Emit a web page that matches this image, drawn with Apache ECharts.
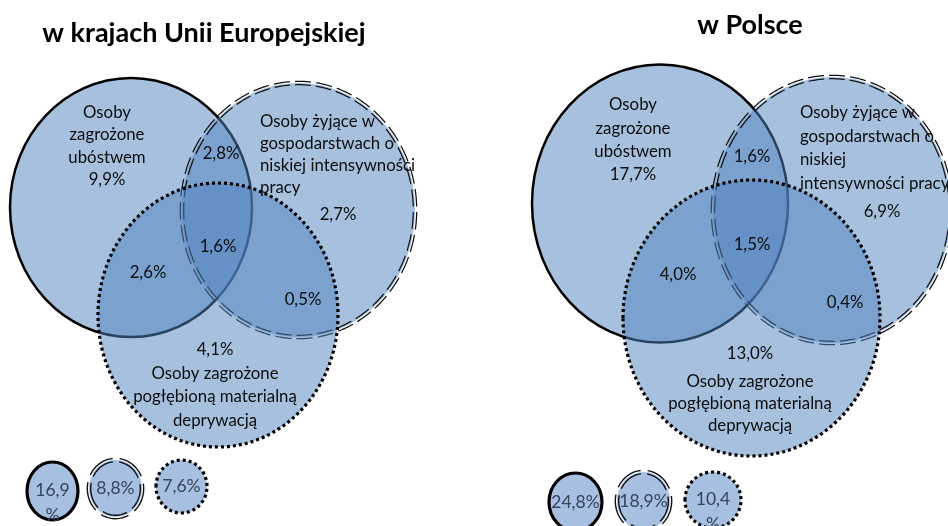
<!DOCTYPE html>
<html>
<head>
<meta charset="utf-8">
<script src="https://cdn.jsdelivr.net/npm/echarts@6/dist/echarts.min.js"></script>
<style>
  html, body { margin: 0; padding: 0; background: #ffffff; }
  #chart { width: 948px; height: 526px; }
</style>
</head>
<body>
<div id="chart"></div>
<script>
// ---- Data -------------------------------------------------------------
const panelTitles = ['w krajach Unii Europejskiej', 'w Polsce'];

// Set names, with the line breaks used in each panel
const setNamesEU = [
  'Osoby\nzagrożone\nubóstwem',
  'Osoby żyjące w\ngospodarstwach o\nniskiej intensywności\npracy',
  'Osoby zagrożone\npogłębioną materialną\ndeprywacją'
];
const setNamesPL = [
  'Osoby\nzagrożone\nubóstwem',
  'Osoby żyjące w\ngospodarstwach o\nniskiej\nintensywności pracy',
  'Osoby zagrożone\npogłębioną materialną\ndeprywacją'
];

// Region shares (%), order: A only, B only, C only, A∩B, A∩C, B∩C, A∩B∩C
const regionKeys = ['A', 'B', 'C', 'AB', 'AC', 'BC', 'ABC'];
const regionValuesEU = [9.9, 2.7, 4.1, 2.8, 2.6, 0.5, 1.6];
const regionValuesPL = [17.7, 6.9, 13.0, 1.6, 4.0, 0.4, 1.5];

// Totals shown in the small key circles (solid, double dashed, dotted)
const keyValuesEU = [16.9, 8.8, 7.6];
const keyValuesPL = [24.8, 18.9, 10.4];

// ---- Layout (pixel space of the hidden axes) ---------------------------
const layoutEU = {
  title: [204, 33],
  circles: [[131, 207.5, 121, 129.5], [298.5, 210, 116.5, 127], [218, 315, 120, 132]],
  names: [[107, 135, 'center', 22.5], [260, 155, 'left', 22], [215, 397, 'center', 23.5]],
  regions: [[107, 180], [338, 215], [215, 350], [221, 154], [148, 273], [303, 300], [218, 247]],
  keys: [[52.5, 491, 25.5, 29, true], [115.5, 488.5, 26.5, 28.5, false], [181.5, 486.5, 25.5, 26.5, false]]
};
const layoutPL = {
  title: [750, 25],
  circles: [[660, 203.5, 128, 139], [832, 210, 119, 133], [751.5, 318, 128.5, 138]],
  names: [[633, 128.5, 'center', 23.5], [800, 148, 'left', 23.5], [750, 404, 'center', 22]],
  regions: [[633, 175], [882, 212], [750, 354], [752, 157], [678, 275], [845, 303], [752, 245]],
  keys: [[575.5, 502, 26.5, 29, false], [643.5, 501, 26.5, 29, false], [713, 500, 28, 28, true]]
};

const FILL = 'rgba(79,129,189,0.5)';
const KEY_FILL = '#a7bfe0';
const FONT = 'Lato, "Open Sans", sans-serif';
const fmt = v => v.toFixed(1).replace('.', ',') + '%';

// ---- Outline painters ---------------------------------------------------
function ellipsePoints(cx, cy, rx, ry, t0, t1, steps) {
  const pts = [];
  for (let i = 0; i <= steps; i++) {
    const t = t0 + (t1 - t0) * i / steps;
    pts.push([cx + rx * Math.cos(t), cy + ry * Math.sin(t)]);
  }
  return pts;
}

function doubleDash(cx, cy, rx, ry, count, frac, gap, width) {
  const children = [];
  const step = Math.PI * 2 / count;
  for (let i = 0; i < count; i++) {
    const t0 = i * step - Math.PI / 2 + 0.15;
    const t1 = t0 + step * frac;
    [-gap / 2, gap / 2].forEach(function (d) {
      children.push({
        type: 'polyline',
        shape: { points: ellipsePoints(cx, cy, rx + d, ry + d, t0, t1, 12) },
        style: { stroke: '#111', lineWidth: width, fill: null }
      });
    });
  }
  return children;
}

function circleShape(kind, cx, cy, rx, ry, fill, isKey) {
  const children = [{
    type: 'ellipse',
    shape: { cx: cx, cy: cy, rx: rx, ry: ry },
    style: { fill: fill, stroke: null }
  }];
  if (kind === 0) {
    children.push({
      type: 'ellipse',
      shape: { cx: cx, cy: cy, rx: rx, ry: ry },
      style: { fill: null, stroke: '#000', lineWidth: isKey ? 3.2 : 2.5 }
    });
  } else if (kind === 1) {
    const n = isKey ? 5 : Math.round((rx + ry) * Math.PI / 22);
    Array.prototype.push.apply(children,
      doubleDash(cx, cy, rx, ry, n, isKey ? 0.8 : 0.76, 3.4, isKey ? 1.4 : 1.25));
  } else {
    children.push({
      type: 'ellipse',
      shape: { cx: cx, cy: cy, rx: rx, ry: ry },
      style: { fill: null, stroke: '#000', lineWidth: 3.2, lineDash: [3, 3] }
    });
  }
  return { type: 'group', children: children };
}

// ---- Series data built from the arrays above ----------------------------
const panels = [
  { layout: layoutEU, names: setNamesEU, values: regionValuesEU, keys: keyValuesEU, title: panelTitles[0] },
  { layout: layoutPL, names: setNamesPL, values: regionValuesPL, keys: keyValuesPL, title: panelTitles[1] }
];

const circleData = [];
const textData = [];
const textItems = [];
panels.forEach(function (p) {
  p.layout.circles.forEach(function (c, i) {
    circleData.push([c[0], c[1], c[2], c[3], i, 0]);
  });
  p.layout.keys.forEach(function (k, i) {
    circleData.push([k[0], k[1], k[2], k[3], i, 1]);
  });
  // title
  textItems.push({ text: p.title, align: 'center', size: 27, weight: 'bold', color: '#000', lh: 30 });
  textData.push([p.layout.title[0], p.layout.title[1], textItems.length - 1]);
  // set names
  p.names.forEach(function (name, i) {
    const n = p.layout.names[i];
    textItems.push({ text: name, align: n[2], size: 16.8, weight: 'normal', color: '#0d0d0d', lh: n[3] });
    textData.push([n[0], n[1], textItems.length - 1]);
  });
  // region values
  p.values.forEach(function (v, i) {
    const r = p.layout.regions[i];
    textItems.push({ text: fmt(v), align: 'center', size: 16.8, weight: 'normal', color: '#0d0d0d', lh: 20 });
    textData.push([r[0], r[1], textItems.length - 1]);
  });
  // key totals
  p.keys.forEach(function (v, i) {
    const k = p.layout.keys[i];
    let s = fmt(v);
    let y = k[1];
    if (k[4]) { s = s.replace('%', '\n%'); y = k[1] + 12; }
    textItems.push({ text: s, align: 'center', size: 17.5, weight: 'normal', color: '#35445a', lh: 25 });
    textData.push([k[0], y, textItems.length - 1]);
  });
});

const chart = echarts.init(document.getElementById('chart'), null, { renderer: 'canvas' });
chart.setOption({
  animation: false,
  backgroundColor: '#ffffff',
  grid: { left: 0, right: 0, top: 0, bottom: 0 },
  xAxis: { type: 'value', min: 0, max: 948, show: false },
  yAxis: { type: 'value', min: 0, max: 526, inverse: true, show: false },
  series: [
    {
      type: 'custom',
      coordinateSystem: 'cartesian2d',
      clip: false,
      z: 2,
      data: circleData,
      renderItem: function (params, api) {
        const c = api.coord([api.value(0), api.value(1)]);
        const s = api.size([api.value(2), api.value(3)]);
        const isKey = api.value(5) === 1;
        return circleShape(api.value(4), c[0], c[1], Math.abs(s[0]), Math.abs(s[1]),
          isKey ? KEY_FILL : FILL, isKey);
      }
    },
    {
      type: 'custom',
      coordinateSystem: 'cartesian2d',
      clip: false,
      z: 5,
      data: textData,
      renderItem: function (params, api) {
        const c = api.coord([api.value(0), api.value(1)]);
        const t = textItems[api.value(2)];
        return {
          type: 'text',
          x: c[0],
          y: c[1],
          style: {
            text: t.text,
            align: t.align,
            verticalAlign: 'middle',
            fontFamily: FONT,
            fontSize: t.size,
            fontWeight: t.weight,
            lineHeight: t.lh,
            fill: t.color
          }
        };
      }
    }
  ]
});
</script>
</body>
</html>
